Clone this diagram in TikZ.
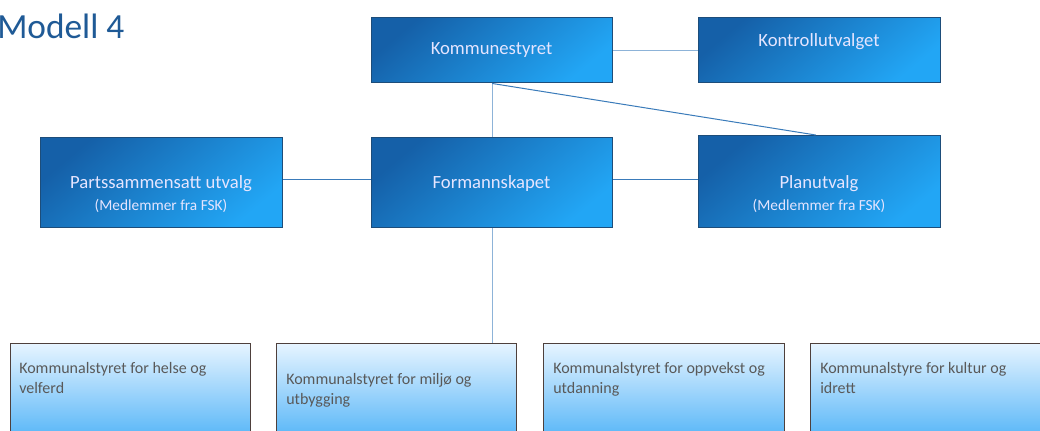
\documentclass[tikz,border=0pt]{standalone}
\usepackage{fontspec}
\setmainfont{Carlito}
\definecolor{boxdark}{HTML}{1560A8}
\definecolor{boxlight}{HTML}{22A6F5}
\definecolor{boxborder}{HTML}{1D4D7A}
\definecolor{lowtop}{HTML}{E6F4FF}
\definecolor{lowbot}{HTML}{5CB8F8}
\definecolor{lowborder}{HTML}{4E403C}
\definecolor{lowtextc}{HTML}{595959}
\definecolor{titleblue}{HTML}{1F5A96}
\definecolor{linelightc}{HTML}{8DB3D8}
\definecolor{linedarkc}{HTML}{3A7BBA}
\newcommand\mysubsz{\fontsize{11.5}{14}\selectfont}
\begin{document}
\begin{tikzpicture}[x=0.75pt,y=-0.75pt,
  topbox/.style={draw=boxborder, line width=1.1pt, top color=boxdark, bottom color=boxlight, shading angle=40, inner sep=0pt, anchor=north west},
  lowbox/.style={draw=lowborder, line width=1.1pt, top color=lowtop, bottom color=lowbot, inner sep=0pt, anchor=north west},
  toptext/.style={text=white!90!blue, font=\fontsize{14}{17}\selectfont, align=center},
  lowtext/.style={text=lowtextc, font=\fontsize{12}{15}\selectfont, align=left, anchor=north west, inner sep=0pt},
  linelight/.style={draw=linelightc, line width=1.1pt},
  linedark/.style={draw=linedarkc, line width=0.75pt}]
\useasboundingbox (0,0) rectangle (1040,430);
\clip (0,0) rectangle (1040,430);
\fill[white] (0,0) rectangle (1040,430);
% title
\node[anchor=base west, inner sep=0pt, text=titleblue, font=\fontsize{26.5}{32}\selectfont] (title) at (-3,38) {Modell 4};
% top boxes
\node[topbox, minimum width=180.75pt, minimum height=48.75pt] (ks) at (371,17) {};
\node[topbox, minimum width=181.5pt, minimum height=48.75pt] (ku) at (698,17) {};
\node[topbox, minimum width=181.5pt, minimum height=67.5pt] (ps) at (40,137) {};
\node[topbox, minimum width=180.75pt, minimum height=67.5pt] (fs) at (371,137) {};
\node[topbox, minimum width=181.5pt, minimum height=69pt] (pu) at (698,135) {};
% bottom boxes
\node[lowbox, minimum width=180pt, minimum height=68pt] (b1) at (10,343) {};
\node[lowbox, minimum width=180pt, minimum height=68pt] (b2) at (276,343) {};
\node[lowbox, minimum width=180.75pt, minimum height=68pt] (b3) at (543,343) {};
\node[lowbox, minimum width=180.75pt, minimum height=68pt] (b4) at (810,343) {};
% connectors
\draw[linelight] (ks.east) -- (ku.west);
\draw[linelight] (ks.south) -- (fs.north);
\draw[linedark] (ks.south) -- ([xshift=-3pt]pu.north);
\draw[linedark] (fs.west |- 0,179) -- (ps.east |- 0,179);
\draw[linedark] (fs.east |- 0,179) -- (pu.west |- 0,179);
\draw[linelight] (fs.south) -- (fs.south |- b2.north);
% texts
\node[toptext] (tks) at (491.5,50) {Kommunestyret};
\node[toptext] (tku) at (819,42) {Kontrollutvalget};
\node[toptext] (tfs) at (491.5,184) {Formannskapet};
\node[toptext] (tps) at (161,194) {Partssammensatt utvalg\\[-1pt]{\mysubsz (Medlemmer fra FSK)}};
\node[toptext] (tpu) at (819,194) {Planutvalg\\[-1pt]{\mysubsz (Medlemmer fra FSK)}};
\node[lowtext] (tb1) at (19,362) {Kommunalstyret for helse og\\velferd};
\node[lowtext] (tb2) at (286,373) {Kommunalstyret for milj\o{} og\\utbygging};
\node[lowtext] (tb3) at (553,362) {Kommunalstyret for oppvekst og\\utdanning};
\node[lowtext] (tb4) at (820,362) {Kommunalstyre for kultur og\\idrett};
\end{tikzpicture}
\end{document}
